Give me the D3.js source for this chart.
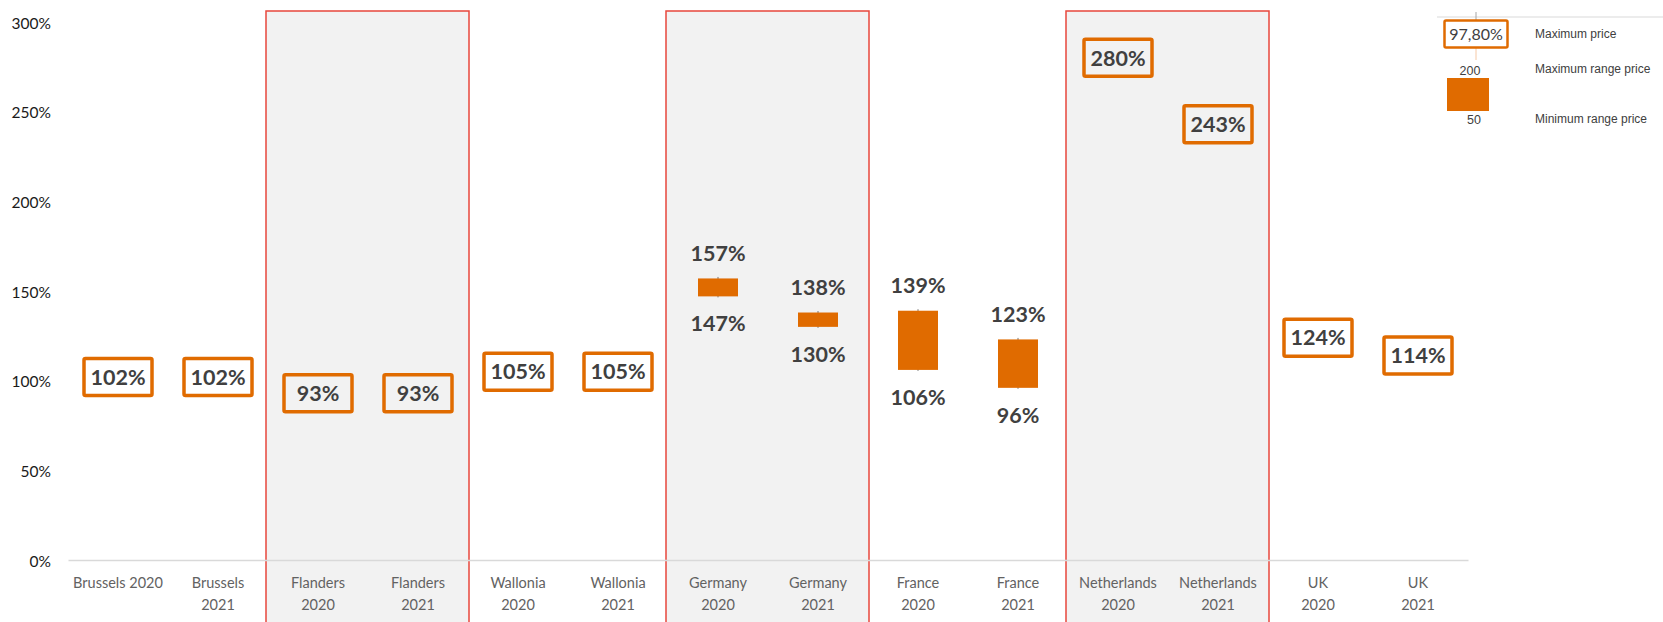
<!DOCTYPE html>
<html>
<head>
<meta charset="utf-8">
<script src="https://cdn.jsdelivr.net/npm/d3@7/dist/d3.min.js"></script>
<style>
  html, body { margin: 0; padding: 0; background: #ffffff; }
  svg { display: block; }
</style>
</head>
<body>
<svg id="chart" width="1663" height="622"></svg>
<script>
// Price range per market, as % of the reference price
const categories = [
  "Brussels 2020", "Brussels 2021", "Flanders 2020", "Flanders 2021",
  "Wallonia 2020", "Wallonia 2021", "Germany 2020", "Germany 2021",
  "France 2020", "France 2021", "Netherlands 2020", "Netherlands 2021",
  "UK 2020", "UK 2021"
];
const tickLabelLines = [
  ["Brussels 2020"], ["Brussels", "2021"], ["Flanders", "2020"], ["Flanders", "2021"],
  ["Wallonia", "2020"], ["Wallonia", "2021"], ["Germany", "2020"], ["Germany", "2021"],
  ["France", "2020"], ["France", "2021"], ["Netherlands", "2020"], ["Netherlands", "2021"],
  ["UK", "2020"], ["UK", "2021"]
];
// Maximum price (upper end of the range)
const maxPrice = [102, 102, 93, 93, 105, 105, 157, 138, 139, 123, 280, 243, 124, 114];
// Minimum price (lower end of the range); null where only one price applies
const minPrice = [null, null, null, null, null, null, 147, 130, 106, 96, null, null, null, null];
// Markets highlighted with a framed band
const highlighted = [
  ["Flanders 2020", "Flanders 2021"],
  ["Germany 2020", "Germany 2021"],
  ["Netherlands 2020", "Netherlands 2021"]
];
const yTicks = [0, 50, 100, 150, 200, 250, 300];
// Legend sample values
const legendMax = "97,80%";
const legendRangeTop = "200";
const legendRangeBottom = "50";
const legendItems = ["Maximum price", "Maximum range price", "Minimum range price"];

const ORANGE = "#e06b00";
const TEXT = "#404040";
const LABEL_FONT = "Lato, 'Open Sans', sans-serif";

const svg = d3.select("#chart");

const x = d3.scaleBand().domain(categories).range([68, 1468]).padding(0);
const y = d3.scaleLinear().domain([0, 300]).range([560, 22]);
const bw = x.bandwidth();

const rows = categories.map((c, i) => ({ cat: c, max: maxPrice[i], min: minPrice[i], lines: tickLabelLines[i] }));

// Framed bands behind the highlighted markets
svg.append("g").selectAll("rect")
  .data(highlighted)
  .join("rect")
  .attr("x", d => x(d[0]) - 2)
  .attr("y", 11)
  .attr("width", d => x(d[d.length - 1]) + bw - x(d[0]) + 3)
  .attr("height", 640)
  .attr("fill", "#f2f2f2")
  .attr("stroke", "#e8473d")
  .attr("stroke-width", 1.5);

// Y axis: labels only
const yAxis = svg.append("g")
  .attr("transform", "translate(68,0)")
  .call(d3.axisLeft(y).tickValues(yTicks).tickSize(0).tickPadding(17).tickFormat(d => d + "%"));
yAxis.select(".domain").remove();
yAxis.selectAll("text")
  .attr("font-family", LABEL_FONT)
  .attr("font-size", 15.5)
  .attr("fill", "#1a1a1a")
  .attr("dy", "0.4em");

// X axis with wrapped category labels
const xAxis = svg.append("g")
  .attr("transform", "translate(0,560)")
  .call(d3.axisBottom(x).tickSize(0).tickSizeOuter(0).tickFormat(""));
xAxis.select(".domain").attr("stroke", "#d9d9d9").attr("stroke-width", 1.3);
xAxis.selectAll(".tick").each(function (d, i) {
  const t = d3.select(this).select("text")
    .attr("font-family", LABEL_FONT)
    .attr("font-size", 14.5)
    .attr("fill", "#626262")
    .attr("y", 0)
    .attr("dy", null);
  tickLabelLines[i].forEach((line, k) => {
    t.append("tspan").attr("x", 0).attr("y", 28 + k * 22).text(line);
  });
});

const marks = svg.append("g");

// Single-price markets: framed value label
const single = rows.filter(r => r.min === null);
const singleG = marks.selectAll("g.single")
  .data(single)
  .join("g")
  .attr("class", "single")
  .attr("transform", r => `translate(${x(r.cat) + bw / 2},${y(r.max)})`);
singleG.append("rect")
  .attr("x", -34).attr("y", -18.5)
  .attr("width", 68).attr("height", 37)
  .attr("rx", 1.5)
  .attr("fill", "none")
  .attr("stroke", ORANGE)
  .attr("stroke-width", 3.5);
singleG.append("text")
  .attr("text-anchor", "middle")
  .attr("dy", "0.36em")
  .attr("font-family", LABEL_FONT)
  .attr("font-weight", 700)
  .attr("font-size", 21.5)
  .attr("fill", TEXT)
  .text(r => r.max + "%");

// Range markets: floating bar from minimum to maximum price
const ranged = rows.filter(r => r.min !== null);
marks.selectAll("line.hl")
  .data(ranged)
  .join("line")
  .attr("class", "hl")
  .attr("x1", r => x(r.cat) + bw / 2)
  .attr("x2", r => x(r.cat) + bw / 2)
  .attr("y1", r => y(r.max) - 1.5)
  .attr("y2", r => y(r.min) + 1)
  .attr("stroke", "#555555")
  .attr("stroke-width", 0.8);
marks.selectAll("rect.range")
  .data(ranged)
  .join("rect")
  .attr("class", "range")
  .attr("x", r => x(r.cat) + bw / 2 - 20)
  .attr("y", r => y(r.max))
  .attr("width", 40)
  .attr("height", r => y(r.min) - y(r.max))
  .attr("fill", ORANGE);
marks.selectAll("text.top")
  .data(ranged)
  .join("text")
  .attr("class", "top")
  .attr("x", r => x(r.cat) + bw / 2)
  .attr("y", r => y(r.max) - 25)
  .attr("dy", "0.36em")
  .attr("text-anchor", "middle")
  .attr("font-family", LABEL_FONT)
  .attr("font-weight", 700)
  .attr("font-size", 21.5)
  .attr("fill", TEXT)
  .text(r => r.max + "%");
marks.selectAll("text.bottom")
  .data(ranged)
  .join("text")
  .attr("class", "bottom")
  .attr("x", r => x(r.cat) + bw / 2)
  .attr("y", r => y(r.min) + 27)
  .attr("dy", "0.36em")
  .attr("text-anchor", "middle")
  .attr("font-family", LABEL_FONT)
  .attr("font-weight", 700)
  .attr("font-size", 21.5)
  .attr("fill", TEXT)
  .text(r => r.min + "%");

// Legend
const lg = svg.append("g");
lg.append("line").attr("x1", 1437).attr("x2", 1663).attr("y1", 17).attr("y2", 17)
  .attr("stroke", "#d9d9d9").attr("stroke-width", 1);
lg.append("line").attr("x1", 1476).attr("x2", 1476).attr("y1", 12).attr("y2", 20)
  .attr("stroke", "#a6a6a6").attr("stroke-width", 1);
lg.append("line").attr("x1", 1476).attr("x2", 1476).attr("y1", 48).attr("y2", 60)
  .attr("stroke", "#f6c9a6").attr("stroke-width", 1);
lg.append("rect").attr("x", 1444.5).attr("y", 20.5).attr("width", 63).attr("height", 27)
  .attr("rx", 1.5).attr("fill", "#ffffff").attr("stroke", ORANGE).attr("stroke-width", 2.5);
lg.append("text").attr("x", 1476).attr("y", 34).attr("dy", "0.36em")
  .attr("text-anchor", "middle").attr("font-family", LABEL_FONT).attr("font-size", 16)
  .attr("fill", TEXT).text(legendMax);
lg.append("text").attr("x", 1470).attr("y", 70).attr("dy", "0.36em")
  .attr("text-anchor", "middle").attr("font-family", "'Liberation Sans', Arial, sans-serif")
  .attr("font-size", 12.5).attr("fill", TEXT).text(legendRangeTop);
lg.append("rect").attr("x", 1447).attr("y", 78).attr("width", 42).attr("height", 33)
  .attr("fill", ORANGE);
lg.append("text").attr("x", 1474).attr("y", 119).attr("dy", "0.36em")
  .attr("text-anchor", "middle").attr("font-family", "'Liberation Sans', Arial, sans-serif")
  .attr("font-size", 12.5).attr("fill", TEXT).text(legendRangeBottom);
lg.selectAll("text.item")
  .data(legendItems)
  .join("text")
  .attr("class", "item")
  .attr("x", 1535)
  .attr("y", (d, i) => [34, 69, 119][i])
  .attr("dy", "0.36em")
  .attr("font-family", "'Liberation Sans', Arial, sans-serif")
  .attr("font-size", 12)
  .attr("fill", TEXT)
  .text(d => d);
</script>
</body>
</html>
